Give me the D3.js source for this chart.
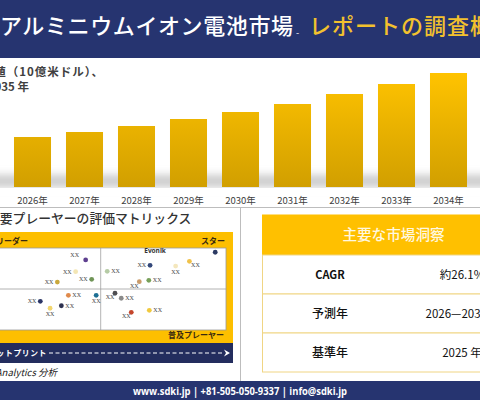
<!DOCTYPE html>
<html>
<head>
    <meta charset="UTF-8">
    <script src="https://cdn.jsdelivr.net/npm/d3@7"></script>
    <style>
        body { margin: 0; background: #fff; }
        svg { display: block; font-family: "Noto Sans CJK JP", "Noto Sans", sans-serif; }
    </style>
</head>

<body>
    <div id="chart"></div>
    <script>
     // Market value (billion USD) per year
     const years = ["2026年", "2027年", "2028年", "2029年", "2030年",
                    "2031年", "2032年", "2033年", "2034年", "2035年"];
     const marketValues = [5.0, 5.5, 6.1, 6.8, 7.5, 8.3, 9.3, 10.3, 11.4, 12.6];

     // Player matrix (scores 0-100 on both axes)
     const playerX = [44.0, 40.0, 32.7, 46.4, 52.6, 95.7, 69.7, 79.9, 85.4, 65.4,
                      69.2, 37.1, 48.2, 25.9, 29.8, 34.3, 55.7, 58.2, 62.2, 69.4];
     const playerY = [85.4, 71.1, 58.5, 61.8, 71.6, 94.8, 78.9, 78.0, 83.8, 58.9,
                      60.6, 42.3, 42.3, 35.0, 26.5, 29.6, 44.8, 38.7, 21.6, 24.0];
     const playerNames = ["XX", "XX", "XX", "XX", "XX", "", "XX", "XX", "XX", "XX",
                          "XX", "XX", "XX", "XX", "XX", "XX", "XX", "XX", "XX", "XX"];
     const labelSide = ["al", "l", "l", "l", "r", "", "l", "b", "br", "bl",
                        "r", "r", "b", "l", "b", "r", "bl", "r", "bl", "r"];
     const playerColors = ["#5e3f8f", "#f3e6b5", "#c9a83c", "#6f9456", "#b5cba5",
                           "#2c3a63", "#34487a", "#f4e7bd", "#f0c24a", "#c99b6a",
                           "#78a05a", "#e08a4b", "#1d6f94", "#2b3566", "#f2d66e",
                           "#2d3150", "#4e4e52", "#8a8a8a", "#c4462c", "#f0c93e"];
     const highlighted = {name: "Evonik", x: 71.7, y: 93.9};

     // Key insights table
     const insightKeys = ["CAGR", "予測年", "基準年"];
     const insightValues = ["約26.1%", "2026—2035年", "2025 年"];

     const navy = "#263470";
     const gold = "#ffc000";

     const svg = d3.select("#chart").append("svg")
                   .attr("width", 480)
                   .attr("height", 400);
     const defs = svg.append("defs");

     // ---- header ----
     svg.append("rect")
        .attr("width", 480).attr("height", 58)
        .attr("fill", navy);
     svg.append("text")
        .attr("x", 0).attr("y", 34)
        .attr("fill", "#fff")
        .attr("textLength", 293)
        .attr("lengthAdjust", "spacing")
        .style("font-size", "22px")
        .style("font-weight", 500)
        .text("アルミニウムイオン電池市場");
     svg.append("text")
        .attr("x", 296).attr("y", 36)
        .attr("fill", "#fff")
        .style("font-size", "9px")
        .text("-");
     svg.append("text")
        .attr("x", 309).attr("y", 34)
        .attr("fill", "#f2c12e")
        .attr("textLength", 206)
        .attr("lengthAdjust", "spacing")
        .style("font-size", "22px")
        .style("font-weight", 500)
        .text("レポートの調査概要");

     // ---- bar chart ----
     svg.append("text")
        .attr("x", 104).attr("y", 76)
        .attr("text-anchor", "end")
        .attr("fill", "#404040")
        .style("font-size", "11.5px")
        .style("font-weight", 700)
        .style("letter-spacing", "1px")
        .text("市場価値（10億米ドル）、");
     svg.append("text")
        .attr("x", 29).attr("y", 91)
        .attr("text-anchor", "end")
        .attr("fill", "#404040")
        .style("font-size", "11.5px")
        .style("font-weight", 700)
        .text("2026－2035 年");

     const x = d3.scaleBand()
                 .domain(years)
                 .range([6.5, 526.5])
                 .paddingInner(0.288)
                 .paddingOuter(0.144);
     const y = d3.scaleLinear()
                 .domain([0, 12.6])
                 .range([187, 61]);

     const grad = defs.append("linearGradient")
                      .attr("id", "barGrad")
                      .attr("gradientUnits", "userSpaceOnUse")
                      .attr("x1", 0).attr("x2", 0)
                      .attr("y1", y(11.4)).attr("y2", y(0));
     grad.append("stop").attr("offset", "0%").attr("stop-color", "#ffc300");
     grad.append("stop").attr("offset", "100%").attr("stop-color", "#d19f00");

     defs.append("filter").attr("id", "blur")
         .attr("x", "-10%").attr("y", "-100%").attr("width", "120%").attr("height", "300%")
         .append("feGaussianBlur").attr("stdDeviation", 4);

     // floor shadow behind the bars
     svg.append("rect")
        .attr("x", -10).attr("y", y(0) - 12)
        .attr("width", 500).attr("height", 12)
        .attr("fill", "#b4b4b4")
        .attr("opacity", 0.7)
        .attr("filter", "url(#blur)");
     svg.append("rect")
        .attr("x", 0).attr("y", y(0) + 1)
        .attr("width", 480).attr("height", 8)
        .attr("fill", "#fff");

     svg.append("g")
        .selectAll("rect")
        .data(marketValues)
        .join("rect")
        .attr("x", (d, i) => x(years[i]))
        .attr("y", d => y(d))
        .attr("width", x.bandwidth())
        .attr("height", d => y(0) - y(d))
        .attr("fill", "url(#barGrad)");

     const xAxis = svg.append("g")
                      .attr("transform", `translate(0,${y(0)})`)
                      .call(d3.axisBottom(x).tickSize(0).tickPadding(10));
     xAxis.select(".domain").remove();
     xAxis.selectAll("text")
          .attr("fill", "#404040")
          .style("font-family", "'Noto Sans CJK JP', sans-serif")
          .style("font-size", "9.5px");

     // panel separators
     svg.append("line")
        .attr("x1", 0).attr("x2", 480)
        .attr("y1", 207.5).attr("y2", 207.5)
        .attr("stroke", "#bdbdbd");
     svg.append("line")
        .attr("x1", 240.5).attr("x2", 240.5)
        .attr("y1", 207.5).attr("y2", 381)
        .attr("stroke", "#bdbdbd");

     // ---- player matrix ----
     svg.append("text")
        .attr("x", -13).attr("y", 223)
        .attr("fill", "#333")
        .style("font-size", "12.8px")
        .style("font-weight", 500)
        .text("主要プレーヤーの評価マトリックス");

     svg.append("rect")
        .attr("x", -32).attr("y", 232)
        .attr("width", 265).attr("height", 111)
        .attr("fill", "#fdbf00");

     const mx = d3.scaleLinear().domain([0, 100]).range([-24.6, 226]);
     const my = d3.scaleLinear().domain([0, 100]).range([330, 248]);

     svg.append("rect")
        .attr("x", mx(0)).attr("y", my(100))
        .attr("width", mx(100) - mx(0)).attr("height", my(0) - my(100))
        .attr("fill", "#fff")
        .attr("stroke", "#9a9a9a")
        .attr("stroke-width", 0.8);
     svg.append("line")
        .attr("x1", mx(50)).attr("x2", mx(50))
        .attr("y1", my(100)).attr("y2", my(0))
        .attr("stroke", "#a0a0a0").attr("stroke-width", 0.8);
     svg.append("line")
        .attr("x1", mx(0)).attr("x2", mx(100))
        .attr("y1", my(50)).attr("y2", my(50))
        .attr("stroke", "#a0a0a0").attr("stroke-width", 0.8);

     const quadText = svg.append("g")
                         .attr("fill", "#3a2a10")
                         .style("font-size", "8px")
                         .style("font-weight", 700);
     quadText.append("text").attr("x", 28).attr("y", 244)
             .attr("text-anchor", "end").text("市場リーダー");
     quadText.append("text").attr("x", 225).attr("y", 244)
             .attr("text-anchor", "end").text("スター");
     quadText.append("text").attr("x", 224).attr("y", 338)
             .attr("text-anchor", "end").text("普及プレーヤー");

     const offsets = {
         al: [-11, -3, "middle"], l: [-4, 2, "end"], r: [4, 2, "start"],
         b: [0, 8, "middle"], br: [6, 6, "middle"], bl: [-5, 6, "middle"]
     };

     const playerData = playerX.map((v, i) => ({
         x: v, y: playerY[i], name: playerNames[i],
         side: labelSide[i], color: playerColors[i]
     }));

     const players = svg.append("g");
     players.selectAll("circle")
            .data(playerData)
            .join("circle")
            .attr("cx", d => mx(d.x))
            .attr("cy", d => my(d.y))
            .attr("r", 2.4)
            .attr("fill", d => d.color);
     players.selectAll("text")
            .data(playerData.filter(d => d.name !== ""))
            .join("text")
            .attr("x", d => mx(d.x) + offsets[d.side][0])
            .attr("y", d => my(d.y) + offsets[d.side][1])
            .attr("text-anchor", d => offsets[d.side][2])
            .attr("fill", "#444")
            .style("font-family", "'Liberation Serif', serif")
            .style("font-size", "6px")
            .text(d => d.name);
     svg.append("text")
        .attr("x", mx(highlighted.x)).attr("y", my(highlighted.y))
        .attr("text-anchor", "middle")
        .attr("fill", "#333")
        .style("font-family", "'Open Sans', sans-serif")
        .style("font-size", "6.5px")
        .style("font-weight", 700)
        .text(highlighted.name);

     // footprint band
     svg.append("rect")
        .attr("x", -10).attr("y", 343)
        .attr("width", 243).attr("height", 20)
        .attr("fill", "#232d5e");
     svg.append("text")
        .attr("x", 47).attr("y", 356)
        .attr("text-anchor", "end")
        .attr("fill", "#fff")
        .style("font-size", "7.8px")
        .style("font-weight", 700)
        .style("letter-spacing", "0.6px")
        .text("市場フットプリント");
     svg.append("line")
        .attr("x1", 49).attr("x2", 224)
        .attr("y1", 353).attr("y2", 353)
        .attr("stroke", "#fff")
        .attr("stroke-width", 1)
        .attr("stroke-dasharray", "4,2.5");
     svg.append("path")
        .attr("d", "M224,349.5 L230,353 L224,356.5 L226,353 Z")
        .attr("fill", "#fff");

     svg.append("text")
        .attr("x", 57).attr("y", 376)
        .attr("text-anchor", "end")
        .attr("fill", "#222")
        .style("font-size", "9.5px")
        .style("font-style", "italic")
        .text("SDKI Analytics  分析");

     // ---- key insights ----
     svg.append("rect")
        .attr("x", 262).attr("y", 214.5)
        .attr("width", 260).attr("height", 40.5)
        .attr("fill", gold);
     svg.append("text")
        .attr("x", 393.5).attr("y", 240)
        .attr("text-anchor", "middle")
        .attr("fill", "#fff8e0")
        .style("font-size", "14.6px")
        .style("font-weight", 500)
        .text("主要な市場洞察");

     const rowY = d3.scaleBand()
                    .domain(insightKeys)
                    .range([255, 372]);
     const rows = svg.append("g");
     rows.selectAll("rect")
         .data(insightKeys)
         .join("rect")
         .attr("x", 262.5)
         .attr("y", d => rowY(d))
         .attr("width", 260)
         .attr("height", rowY.bandwidth())
         .attr("fill", "#fff")
         .attr("stroke", "#f0d584")
         .attr("stroke-width", 1);
     rows.selectAll("text.key")
         .data(insightKeys)
         .join("text")
         .attr("class", "key")
         .attr("x", 330)
         .attr("y", d => rowY(d) + rowY.bandwidth() / 2 + 4.5)
         .attr("text-anchor", "middle")
         .attr("fill", "#111")
         .style("font-size", (d, i) => i === 0 ? "11px" : "12px")
         .style("font-weight", (d, i) => i === 0 ? 700 : 500)
         .text(d => d);
     rows.selectAll("text.val")
         .data(insightValues)
         .join("text")
         .attr("class", "val")
         .attr("x", 462)
         .attr("y", (d, i) => rowY(insightKeys[i]) + rowY.bandwidth() / 2 + 4.5)
         .attr("text-anchor", "middle")
         .attr("fill", "#111")
         .style("font-size", "11.5px")
         .text(d => d);

     // ---- footer ----
     svg.append("rect")
        .attr("x", 0).attr("y", 381)
        .attr("width", 480).attr("height", 19)
        .attr("fill", navy);
     svg.append("text")
        .attr("x", 240).attr("y", 394.5)
        .attr("text-anchor", "middle")
        .attr("fill", "#fff")
        .attr("textLength", 214)
        .attr("lengthAdjust", "spacingAndGlyphs")
        .style("font-family", "'Open Sans', sans-serif")
        .style("font-size", "10.5px")
        .style("font-weight", 700)
        .text("www.sdki.jp | +81-505-050-9337 | info@sdki.jp");
    </script>
</body>

</html>
